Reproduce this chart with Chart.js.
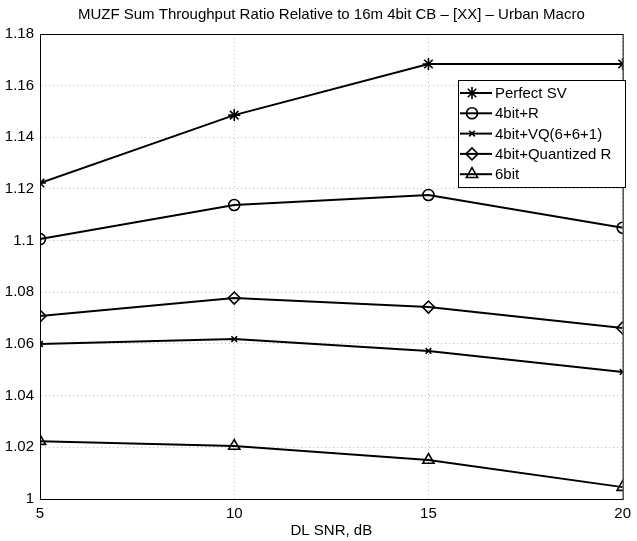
<!DOCTYPE html>
<html>
<head>
<meta charset="utf-8">
<script src="https://cdn.jsdelivr.net/npm/chart.js@4/dist/chart.umd.min.js"></script>
<style>
  html, body { margin: 0; padding: 0; background: #fff; }
  #wrap { width: 637px; height: 541px; }
</style>
</head>
<body>
<div id="wrap"><canvas id="chart" width="637" height="541"></canvas></div>
<script>
// data
const snr = [5, 10, 15, 20];
const perfectSV = [1.1223, 1.1486, 1.1684, 1.1684];
const bit4R = [1.1006, 1.1138, 1.1177, 1.1050];
const bit4VQ = [1.0600, 1.0619, 1.0573, 1.0492];
const bit4QuantR = [1.0708, 1.0778, 1.0743, 1.0662];
const bit6 = [1.0224, 1.0205, 1.0151, 1.0046];
const yTicks = [1, 1.02, 1.04, 1.06, 1.08, 1.1, 1.12, 1.14, 1.16, 1.18];

const FONT = '"Liberation Sans", Arial, sans-serif';

function series(label, values, style, radius) {
    return {
        label: label,
        data: snr.map((x, i) => ({ x: x, y: values[i] })),
        borderColor: '#000',
        backgroundColor: 'rgba(0,0,0,0)',
        borderWidth: 2,
        pointStyle: style,
        pointRadius: radius,
        pointBorderWidth: 1.6,
        pointBorderColor: '#000',
        pointBackgroundColor: 'rgba(0,0,0,0)',
        tension: 0
    };
}

// box around plot + matlab style title
const framePlugin = {
    id: 'frame',
    afterDatasetsDraw(chart) {
        const { ctx, chartArea: a } = chart;
        ctx.save();
        ctx.strokeStyle = '#000';
        ctx.lineWidth = 1;
        ctx.strokeRect(a.left + 0.5, a.top + 0.5, a.right - a.left, a.bottom - a.top);
        ctx.fillStyle = '#000';
        ctx.font = '15px ' + FONT;
        ctx.textAlign = 'center';
        ctx.textBaseline = 'middle';
        ctx.fillText('MUZF Sum Throughput Ratio Relative to 16m 4bit CB \u2013 [XX] \u2013 Urban Macro', (a.left + a.right) / 2, 15);
        ctx.restore();
    }
};

// legend box inside plot area (top right)
const legendPlugin = {
    id: 'boxLegend',
    afterDraw(chart) {
        const { ctx } = chart;
        const x0 = 458, y0 = 80, w = 167, h = 107, rowH = 20.3;
        ctx.save();
        ctx.fillStyle = '#fff';
        ctx.fillRect(x0, y0, w, h);
        ctx.strokeStyle = '#000';
        ctx.lineWidth = 1;
        ctx.strokeRect(x0 + 0.5, y0 + 0.5, w, h);
        ctx.font = '15px ' + FONT;
        ctx.textBaseline = 'middle';
        chart.data.datasets.forEach((ds, i) => {
            const y = y0 + 13 + i * rowH;
            ctx.strokeStyle = '#000';
            ctx.lineWidth = 2;
            ctx.beginPath();
            ctx.moveTo(x0 + 2, y);
            ctx.lineTo(x0 + 34, y);
            ctx.stroke();
            ctx.lineWidth = 1.6;
            ctx.fillStyle = 'rgba(0,0,0,0)';
            Chart.helpers.drawPoint(ctx, {
                pointStyle: ds.pointStyle,
                radius: ds.pointRadius,
                borderWidth: 1.6
            }, x0 + 14, y);
            ctx.fillStyle = '#000';
            ctx.fillText(ds.label, x0 + 37, y + 1);
        });
        ctx.restore();
    }
};

new Chart(document.getElementById('chart'), {
    type: 'line',
    data: {
        datasets: [
            series('Perfect SV', perfectSV, 'star', 6),
            series('4bit+R', bit4R, 'circle', 5.5),
            series('4bit+VQ(6+6+1)', bit4VQ, 'crossRot', 4),
            series('4bit+Quantized R', bit4QuantR, 'rectRot', 6),
            series('6bit', bit6, 'triangle', 6.5)
        ]
    },
    options: {
        responsive: false,
        animation: false,
        devicePixelRatio: 1,
        layout: { padding: { top: 34, right: 9, left: 0, bottom: 0 } },
        plugins: {
            legend: { display: false },
            title: { display: false },
            tooltip: { enabled: false }
        },
        scales: {
            x: {
                type: 'linear',
                min: 5,
                max: 20,
                afterBuildTicks: (axis) => { axis.ticks = snr.map(v => ({ value: v })); },
                afterFit: (axis) => { axis.height = 42; },
                grid: { color: '#bdbdbd', drawTicks: false, tickLength: 0 },
                border: { display: true, color: '#000', dash: [1, 3] },
                ticks: { color: '#000', font: { family: FONT, size: 15 }, padding: 6, maxRotation: 0 },
                title: { display: true, text: 'DL SNR, dB', color: '#000', font: { family: FONT, size: 15 }, padding: { top: 0, bottom: 1 } }
            },
            y: {
                min: 1,
                max: 1.18,
                afterBuildTicks: (axis) => { axis.ticks = yTicks.map(v => ({ value: v })); },
                afterFit: (axis) => { axis.width = 40; },
                grid: { color: '#bdbdbd', drawTicks: false, tickLength: 0 },
                border: { display: true, color: '#000', dash: [1, 3] },
                ticks: {
                    color: '#000',
                    font: { family: FONT, size: 15 },
                    padding: 6,
                    callback: (v) => String(Number(v.toFixed(2)))
                }
            }
        }
    },
    plugins: [framePlugin, legendPlugin]
});
</script>
</body>
</html>
